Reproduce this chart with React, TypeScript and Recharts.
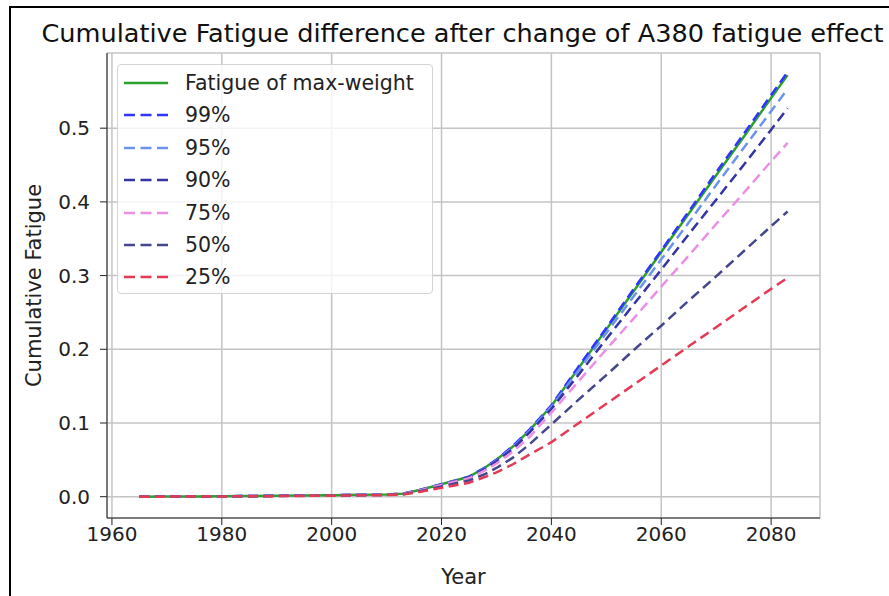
import React from "react";
import { LineChart, Line, XAxis, YAxis, CartesianGrid, Label } from "recharts";

const years = [1965, 1970, 1975, 1980, 1985, 1990, 1995, 2000, 2005, 2010, 2013, 2016, 2020, 2025, 2028, 2030, 2033, 2036, 2040, 2045, 2050, 2055, 2060, 2065, 2070, 2075, 2080, 2083];

const maxWeight = [0, 0.0002, 0.0004, 0.0006, 0.0009, 0.0012, 0.0016, 0.002, 0.0025, 0.003, 0.004, 0.009, 0.017, 0.027, 0.04, 0.05, 0.068, 0.09, 0.123, 0.175, 0.227, 0.279, 0.332, 0.384, 0.436, 0.488, 0.541, 0.572];
const p99 = [0, 0.0002, 0.0004, 0.0006, 0.0009, 0.0012, 0.0016, 0.002, 0.0025, 0.003, 0.004, 0.009, 0.017, 0.027, 0.04, 0.05, 0.069, 0.091, 0.124, 0.177, 0.229, 0.282, 0.334, 0.387, 0.44, 0.492, 0.545, 0.576];
const p95 = [0, 0.0002, 0.0004, 0.0006, 0.0009, 0.0012, 0.0016, 0.002, 0.0025, 0.003, 0.004, 0.009, 0.017, 0.026, 0.039, 0.049, 0.067, 0.089, 0.122, 0.172, 0.222, 0.272, 0.322, 0.372, 0.423, 0.473, 0.523, 0.553];
const p90 = [0, 0.0002, 0.0004, 0.0006, 0.0009, 0.0012, 0.0015, 0.0019, 0.0024, 0.0029, 0.0039, 0.0088, 0.0165, 0.026, 0.038, 0.048, 0.065, 0.087, 0.119, 0.166, 0.214, 0.261, 0.308, 0.356, 0.403, 0.45, 0.498, 0.527];
const p75 = [0, 0.0002, 0.0004, 0.0006, 0.0008, 0.0011, 0.0015, 0.0018, 0.0023, 0.0028, 0.0037, 0.0085, 0.016, 0.025, 0.036, 0.045, 0.061, 0.081, 0.114, 0.157, 0.2, 0.242, 0.285, 0.327, 0.37, 0.412, 0.455, 0.48];
const p50 = [0, 0.0002, 0.0003, 0.0005, 0.0007, 0.001, 0.0013, 0.0016, 0.002, 0.0025, 0.0034, 0.0075, 0.014, 0.022, 0.031, 0.039, 0.053, 0.071, 0.098, 0.132, 0.165, 0.199, 0.232, 0.266, 0.299, 0.333, 0.367, 0.387];
const p25 = [0, 0.0001, 0.0003, 0.0004, 0.0006, 0.0008, 0.0011, 0.0014, 0.0018, 0.0022, 0.003, 0.0065, 0.012, 0.019, 0.027, 0.033, 0.044, 0.057, 0.074, 0.1, 0.126, 0.152, 0.178, 0.204, 0.23, 0.256, 0.282, 0.297];

const xTicks = [1960, 1980, 2000, 2020, 2040, 2060, 2080];
const yTicks = [0, 0.1, 0.2, 0.3, 0.4, 0.5];

const series = [
	{ key: "max", name: "Fatigue of max-weight", values: maxWeight, color: "#2ca02c", dash: undefined },
	{ key: "p99", name: "99%", values: p99, color: "#3034ff", dash: "10 5.5" },
	{ key: "p95", name: "95%", values: p95, color: "#6b93ee", dash: "10 5.5" },
	{ key: "p90", name: "90%", values: p90, color: "#3434a4", dash: "10 5.5" },
	{ key: "p75", name: "75%", values: p75, color: "#ea8fe4", dash: "10 5.5" },
	{ key: "p50", name: "50%", values: p50, color: "#45478e", dash: "10 5.5" },
	{ key: "p25", name: "25%", values: p25, color: "#e53a55", dash: "10 5.5" },
];

const data = years.map((year, i) => {
	const row: Record<string, number> = { year };
	series.forEach((s) => (row[s.key] = s.values[i]));
	return row;
});

const font = "'DejaVu Sans', sans-serif";

function LegendBox() {
	return (
		<div
			style={{
				position: "absolute",
				left: 117,
				top: 64,
				width: 314,
				height: 228,
				border: "1px solid #d4d4d4",
				borderRadius: 4,
				background: "rgba(255,255,255,0.8)",
				fontFamily: font,
				fontSize: 20.5,
				color: "#222",
			}}
		>
			{series.map((s, i) => (
				<div key={s.key} style={{ position: "absolute", left: 0, top: 4 + i * 32.4, height: 28, display: "flex", alignItems: "center" }}>
					<svg width={58} height={10} style={{ marginLeft: 5 }}>
						<line x1={1} y1={5} x2={45} y2={5} stroke={s.color} strokeWidth={2.6} strokeDasharray={s.dash ? "11 5.5" : undefined} />
					</svg>
					<span style={{ marginLeft: 4, whiteSpace: "nowrap" }}>{s.name}</span>
				</div>
			))}
		</div>
	);
}

export default function App() {
	return (
		<div style={{ position: "absolute", left: 0, top: 0, width: 889, height: 596, background: "#fff", overflow: "hidden" }}>
			<div style={{ position: "absolute", left: 9, top: 6, width: 2, height: 590, background: "#000" }} />
			<div style={{ position: "absolute", left: 9, top: 6, width: 880, height: 2, background: "#000" }} />
			<div
				style={{
					position: "absolute",
					left: 0,
					top: 18,
					width: 925,
					textAlign: "center",
					fontFamily: font,
					fontSize: 25.6,
					color: "#111",
					whiteSpace: "nowrap",
				}}
			>
				Cumulative Fatigue difference after change of A380 fatigue effect
			</div>
			<div style={{ position: "absolute", left: 0, top: 0 }}>
				<LineChart width={889} height={596} data={data} margin={{ top: 53, right: 69, bottom: 38, left: 0 }}>
					<CartesianGrid stroke="#c4c4c4" strokeWidth={1.5} horizontal vertical />
					<XAxis
						dataKey="year"
						type="number"
						domain={[1959.1, 2088.9]}
						ticks={xTicks}
						allowDataOverflow
						height={40}
						tickSize={7}
						tickMargin={2}
						stroke="#222"
						tick={{ fontSize: 20, fontFamily: font, fill: "#222" }}
					>
						<Label value="Year" position="insideBottom" offset={-26} style={{ fontSize: 21, fontFamily: font, fill: "#222" }} />
					</XAxis>
					<XAxis xAxisId="top" orientation="top" type="number" domain={[1959.1, 2088.9]} height={0} tick={false} tickLine={false} stroke="#222" />
					<YAxis
						type="number"
						domain={[-0.0289, 0.602]}
						ticks={yTicks}
						allowDataOverflow
						width={107}
						tickSize={7}
						tickMargin={10}
						stroke="#222"
						tickFormatter={(v: number) => v.toFixed(1)}
						tick={{ fontSize: 20, fontFamily: font, fill: "#222" }}
					>
						<Label value="Cumulative Fatigue" angle={-90} position="insideLeft" offset={34} style={{ fontSize: 21, fontFamily: font, fill: "#222", textAnchor: "middle" }} />
					</YAxis>
					<YAxis yAxisId="right" orientation="right" type="number" domain={[-0.0289, 0.602]} width={0} tick={false} tickLine={false} stroke="#222" />
					{series.map((s) => (
						<Line
							key={s.key}
							dataKey={s.key}
							name={s.name}
							stroke={s.color}
							strokeWidth={2.5}
							strokeDasharray={s.dash}
							dot={false}
							activeDot={false}
							isAnimationActive={false}
						/>
					))}
				</LineChart>
			</div>
			<LegendBox />
		</div>
	);
}
